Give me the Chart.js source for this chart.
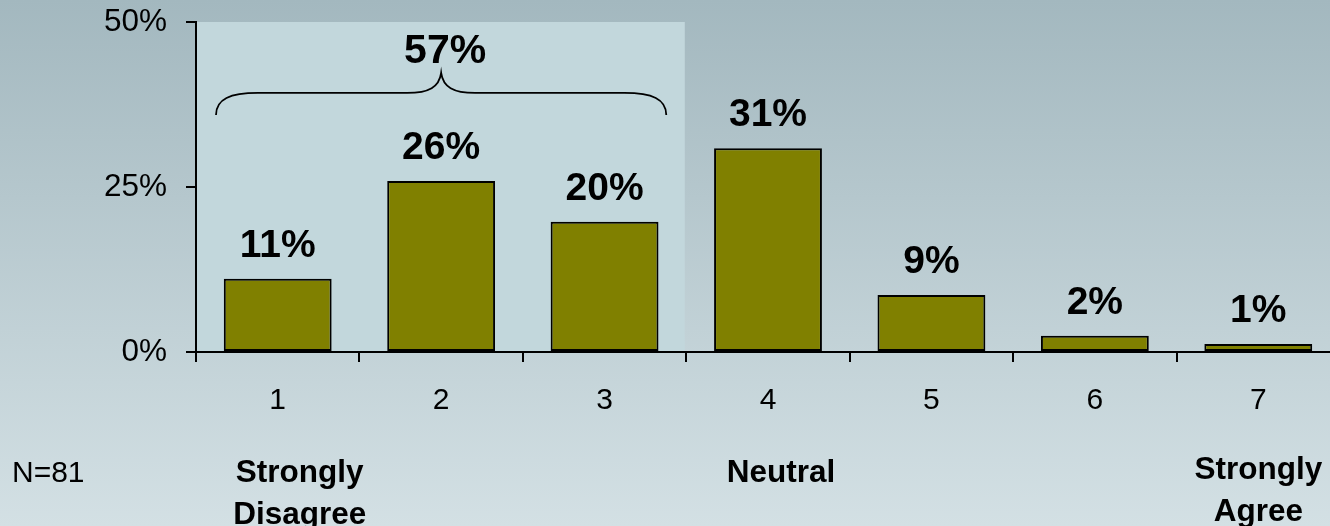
<!DOCTYPE html>
<html>
<head>
<meta charset="utf-8">
<script src="https://cdn.jsdelivr.net/npm/chart.js@4/dist/chart.umd.min.js"></script>
<style>
  html, body { margin: 0; padding: 0; overflow: hidden; background: #d2e0e4; }
  #wrap { width: 1330px; height: 526px; overflow: hidden; }
  canvas { display: block; }
</style>
</head>
<body>
<div id="wrap"><canvas id="c" width="1340" height="526"></canvas></div>
<script>
// ---- data ----
const categories = ['1', '2', '3', '4', '5', '6', '7'];
const percentValues = [11.1, 25.9, 19.75, 30.86, 8.64, 2.47, 1.23];
const yTickValues = [0, 25, 50];
const sampleNote = 'N=81';
const anchorIndex = [0, 3, 6];
const anchorText = [['Strongly', 'Disagree'], ['Neutral'], ['Strongly', 'Agree']];
const groupedIndex = [0, 1, 2];

const FONT = 'Arial, "Liberation Sans", sans-serif';

const bgPlugin = {
  id: 'bg',
  beforeDraw(chart) {
    const ctx = chart.ctx;
    const g = ctx.createLinearGradient(0, 0, 0, chart.height);
    g.addColorStop(0, '#a3b8bf');
    g.addColorStop(1, '#d3e0e4');
    ctx.save();
    ctx.fillStyle = g;
    ctx.fillRect(0, 0, chart.width, chart.height);
    // highlight box behind grouped categories
    const x = chart.scales.x, y = chart.scales.y;
    const half = (x.getPixelForValue(1) - x.getPixelForValue(0)) / 2;
    const left = x.getPixelForValue(groupedIndex[0]) - half;
    const right = x.getPixelForValue(groupedIndex[groupedIndex.length - 1]) + half - 1.5;
    const top = y.getPixelForValue(50);
    const bottom = y.getPixelForValue(0);
    ctx.fillStyle = '#c2d7dc';
    ctx.fillRect(left, top, right - left, bottom - top);
    ctx.restore();
  }
};

const annoPlugin = {
  id: 'anno',
  afterDatasetsDraw(chart) {
    const ctx = chart.ctx;
    const x = chart.scales.x, y = chart.scales.y;
    const meta = chart.getDatasetMeta(0);
    ctx.save();
    ctx.fillStyle = '#000';
    ctx.textAlign = 'center';
    ctx.textBaseline = 'alphabetic';
    // value labels
    ctx.font = 'bold 39px ' + FONT;
    meta.data.forEach((bar, i) => {
      ctx.fillText(Math.round(percentValues[i]) + '%', bar.x, bar.y - 22);
    });
    // brace over grouped categories
    const half = (x.getPixelForValue(1) - x.getPixelForValue(0)) / 2;
    const bx0 = x.getPixelForValue(groupedIndex[0]) - half + 20;
    const bx1 = x.getPixelForValue(groupedIndex[groupedIndex.length - 1]) + half - 20;
    const bxc = x.getPixelForValue(groupedIndex[1]);
    const yEnd = y.getPixelForValue(35.9);
    const yMid = y.getPixelForValue(39.25);
    const yTip = y.getPixelForValue(42.3);
    ctx.strokeStyle = '#000';
    ctx.lineWidth = 1.8;
    ctx.beginPath();
    ctx.moveTo(bx0, yEnd);
    ctx.bezierCurveTo(bx0, yMid + 6, bx0 + 14, yMid, bx0 + 42, yMid);
    ctx.lineTo(bxc - 34, yMid);
    ctx.bezierCurveTo(bxc - 12, yMid, bxc - 2, yMid - 6, bxc, yTip);
    ctx.bezierCurveTo(bxc + 2, yMid - 6, bxc + 12, yMid, bxc + 34, yMid);
    ctx.lineTo(bx1 - 42, yMid);
    ctx.bezierCurveTo(bx1 - 14, yMid, bx1, yMid + 6, bx1, yEnd);
    ctx.stroke();
    // group total
    const total = groupedIndex.reduce((s, i) => s + percentValues[i], 0);
    ctx.font = 'bold 41px ' + FONT;
    ctx.fillText(Math.round(total) + '%', bxc + 4, yTip - 10);
    // anchor labels under axis
    ctx.font = 'bold 31.5px ' + FONT;
    const shifts = [22, 13, 0];
    const baselines = [482, 482, 479];
    anchorIndex.forEach((ci, k) => {
      const cx = x.getPixelForValue(ci) + shifts[k];
      anchorText[k].forEach((line, j) => {
        ctx.fillText(line, cx, baselines[k] + j * 41.5);
      });
    });
    // sample size note
    ctx.font = '30px ' + FONT;
    ctx.textAlign = 'left';
    ctx.fillText(sampleNote, 12, 482);
    ctx.restore();
  }
};

new Chart(document.getElementById('c'), {
  type: 'bar',
  data: {
    labels: categories,
    datasets: [{
      data: percentValues,
      backgroundColor: '#808000',
      borderColor: '#000',
      borderWidth: 2,
      borderSkipped: false,
      barPercentage: 0.66,
      categoryPercentage: 1.0
    }]
  },
  options: {
    responsive: false,
    animation: false,
    events: [],
    layout: { padding: { top: 22, right: 0, left: 0, bottom: 0 } },
    plugins: { legend: { display: false }, tooltip: { enabled: false } },
    scales: {
      x: {
        offset: true,
        grid: { offset: true, drawOnChartArea: false, drawTicks: true, tickLength: 10, color: '#000', lineWidth: 2 },
        border: { color: '#000', width: 2 },
        ticks: { color: '#000', font: { family: FONT, size: 30 }, padding: 21, maxRotation: 0 },
        afterFit(s) { s.height = 174; s.paddingLeft = 0; s.paddingRight = 0; }
      },
      y: {
        min: 0, max: 50,
        afterBuildTicks(s) { s.ticks = yTickValues.map(v => ({ value: v })); },
        grid: { drawOnChartArea: false, drawTicks: true, tickLength: 10, color: '#000', lineWidth: 2 },
        border: { color: '#000', width: 2 },
        ticks: { color: '#000', font: { family: FONT, size: 31.5 }, padding: 19, callback: v => v + '%' },
        afterFit(s) { s.width = 196; s.paddingTop = 0; s.paddingBottom = 0; }
      }
    }
  },
  plugins: [bgPlugin, annoPlugin]
});
</script>
</body>
</html>
